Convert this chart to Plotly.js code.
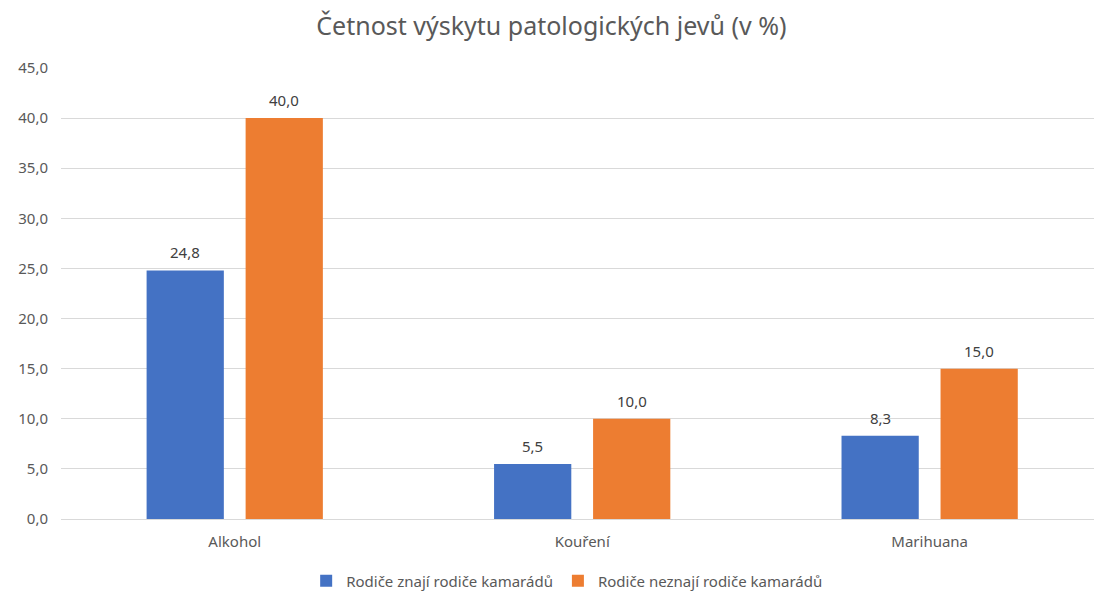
<!DOCTYPE html>
<html>
<head>
<meta charset="utf-8">
<script src="https://cdn.plot.ly/plotly-3.0.1.min.js"></script>
<style>html,body{margin:0;padding:0;background:#fff;overflow:hidden}</style>
</head>
<body>
<div id="chart" style="width:1094px;height:591px"></div>
<script>
const categories = ["Alkohol", "Kouření", "Marihuana"];
const seriesNames = ["Rodiče znají rodiče kamarádů", "Rodiče neznají rodiče kamarádů"];
const knowValues = [24.8, 5.5, 8.3];
const dontKnowValues = [40.0, 10.0, 15.0];
const yTicks = [0, 5, 10, 15, 20, 25, 30, 35, 40, 45];
const colors = ["#4472C4", "#ED7D31"];

const font = "'Noto Sans', 'Open Sans', sans-serif";
const bargap = 0.43;
const slot = (1 - bargap) / 2;

const mk = (name, y, color) => ({
  type: "bar", name: name, x: categories, y: y,
  marker: {color: color},
  hoverinfo: "x+y"
});
const data = [
  mk(seriesNames[0], knowValues, colors[0]),
  mk(seriesNames[1], dontKnowValues, colors[1])
];

const fmt = v => v.toFixed(1).replace(".", ",");
const annotations = [];
[knowValues, dontKnowValues].forEach((vals, s) => {
  vals.forEach((v, i) => {
    annotations.push({
      x: i + (s === 0 ? -slot / 2 : slot / 2), y: v, xref: "x", yref: "y",
      text: fmt(v), showarrow: false, yanchor: "bottom", yshift: 6,
      font: {size: 15, color: "#404040", family: font}
    });
  });
});

const layout = {
  width: 1094, height: 591,
  margin: {l: 61, r: 0, t: 68, b: 72},
  separators: ", ",
  font: {family: font, color: "#595959", size: 15},
  title: {text: "Četnost výskytu patologických jevů (v %)", x: 0.504, xanchor: "center", y: 0.955, yanchor: "middle",
          font: {size: 25, color: "#595959", family: font}},
  barmode: "group", bargap: bargap, bargroupgap: 0.22,
  xaxis: {type: "category", range: [-0.5, 2.473], showgrid: false, zeroline: false, showline: false,
          ticks: "", ticklabelstandoff: 12, tickfont: {size: 15, color: "#595959"}, automargin: false},
  yaxis: {range: [0, 45], tickvals: yTicks, tickformat: ".1f", showgrid: true, gridcolor: "#d9d9d9",
          gridwidth: 1, zeroline: true, zerolinecolor: "#d9d9d9", showline: false, ticks: "",
          ticklabelstandoff: 12, tickfont: {size: 15, color: "#595959"}, automargin: false},
  annotations: annotations,
  showlegend: true,
  legend: {orientation: "h", xref: "paper", x: 0.49, xanchor: "center",
           yref: "container", y: 0.017, yanchor: "middle",
           font: {size: 15, color: "#595959"}},
  plot_bgcolor: "#fff", paper_bgcolor: "#fff"
};
Plotly.newPlot("chart", data, layout, {displayModeBar: false, staticPlot: true});
</script>
</body>
</html>
